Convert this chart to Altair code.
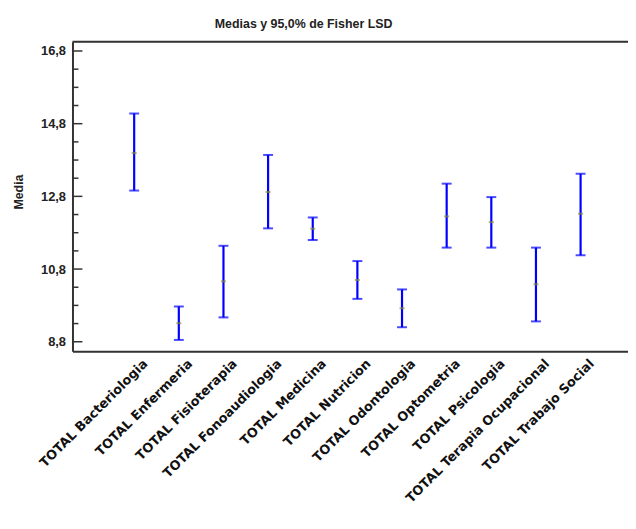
import json
import altair as alt
import pandas as pd

categories = ["TOTAL Bacteriologia", "TOTAL Enfermeria", "TOTAL Fisioterapia",
              "TOTAL Fonoaudiologia", "TOTAL Medicina", "TOTAL Nutricion",
              "TOTAL Odontologia", "TOTAL Optometria", "TOTAL Psicologia",
              "TOTAL Terapia Ocupacional", "TOTAL Trabajo Social"]
means = [13.99, 9.31, 10.46, 12.92, 11.91, 10.50, 9.72, 12.25, 12.09, 10.38, 12.32]
lower = [12.96, 8.85, 9.47, 11.92, 11.60, 9.98, 9.20, 11.39, 11.39, 9.36, 11.18]
upper = [15.08, 9.77, 11.44, 13.94, 12.22, 11.02, 10.24, 13.15, 12.78, 11.39, 13.42]
major_ticks = [8.8, 10.8, 12.8, 14.8, 16.8]
minor_ticks = [9.3, 9.8, 10.3, 11.3, 11.8, 12.3, 13.3, 13.8, 14.3, 15.3, 15.8, 16.3]
y_domain = [8.538, 17.054]
x_domain = [-1.382, 11.062]

W, H = 560, 312
FRAME = "#333333"

idx = list(range(len(categories)))
df = pd.DataFrame({"idx": idx, "cat": categories, "mean": means, "lo": lower, "hi": upper})
major_df = pd.DataFrame({"v": major_ticks})
minor_df = pd.DataFrame({"v": minor_ticks})

yscale = alt.Scale(domain=y_domain, nice=False, zero=False)
yaxis = alt.Axis(values=major_ticks, labelExpr="replace(format(datum.value, '.1f'), '.', ',')",
                 ticks=False, tickSize=0, grid=False, domain=True, domainWidth=2,
                 domainColor=FRAME, labelFont="Liberation Sans", labelFontWeight="bold",
                 labelFontSize=13, labelColor="#222222", labelPadding=7,
                 title="Media", titleFont="Liberation Sans", titleFontWeight="bold",
                 titleFontSize=12.5, titleColor="#222222", titleAngle=-90,
                 titleX=-54, titleY=151, titleAlign="center", titleBaseline="middle")

xscale = alt.Scale(domain=x_domain, nice=False, zero=False)
xaxis = alt.Axis(title=None, values=idx, labelExpr=json.dumps(categories) + "[datum.value]",
                 ticks=False, tickSize=0, grid=False, domain=True,
                 domainWidth=2, domainColor=FRAME, labelAngle=-45, labelAlign="right",
                 labelBaseline="middle", labelFont="DejaVu Sans", labelFontWeight="bold",
                 labelFontSize=13, labelColor="#111111", labelPadding=10, labelOffset=11,
                 labelOverlap=False, labelLimit=0, labelFlush=False)

X = alt.X("idx:Q", scale=xscale, axis=xaxis)

base = alt.Chart(df)

bars = base.mark_rule(color="#0000ff", strokeWidth=2.2).encode(
    x=X, y=alt.Y("lo:Q", scale=yscale, axis=yaxis), y2="hi:Q")
cap_hi = base.mark_tick(color="#0000ff", size=10, thickness=2, orient="horizontal").encode(
    x=X, y=alt.Y("hi:Q", scale=yscale, axis=yaxis))
cap_lo = base.mark_tick(color="#0000ff", size=10, thickness=2, orient="horizontal").encode(
    x=X, y=alt.Y("lo:Q", scale=yscale, axis=yaxis))
mean_mark = base.mark_tick(color="#8a8a3c", size=5, thickness=2, orient="horizontal").encode(
    x=X, y=alt.Y("mean:Q", scale=yscale, axis=yaxis))

major_rules = alt.Chart(major_df).mark_rule(color=FRAME, strokeWidth=1.5).encode(
    y=alt.Y("v:Q", scale=yscale, axis=yaxis), x=alt.value(0), x2=alt.value(10))
minor_rules = alt.Chart(minor_df).mark_rule(color=FRAME, strokeWidth=1.5).encode(
    y=alt.Y("v:Q", scale=yscale, axis=yaxis), x=alt.value(0), x2=alt.value(6))

top_line = alt.Chart(alt.Data(values=[{"a": 1}])).mark_rule(color=FRAME, strokeWidth=2).encode(
    x=alt.value(0), x2=alt.value(W), y=alt.value(0))

chart = alt.layer(bars, cap_hi, cap_lo, mean_mark, major_rules, minor_rules, top_line).properties(
    width=W, height=H,
    title=alt.TitleParams("Medias y 95,0% de Fisher LSD", font="Liberation Sans",
                          fontWeight="bold", fontSize=12.5, color="#222222",
                          anchor="middle", dx=-47, offset=10),
    autosize=alt.AutoSizeParams(type="none"),
    padding={"left": 65, "top": 32, "right": 0, "bottom": 162},
).configure_view(stroke=None).configure(background="white")

chart.save("out.html", embed_options={"renderer": "svg", "actions": False})
